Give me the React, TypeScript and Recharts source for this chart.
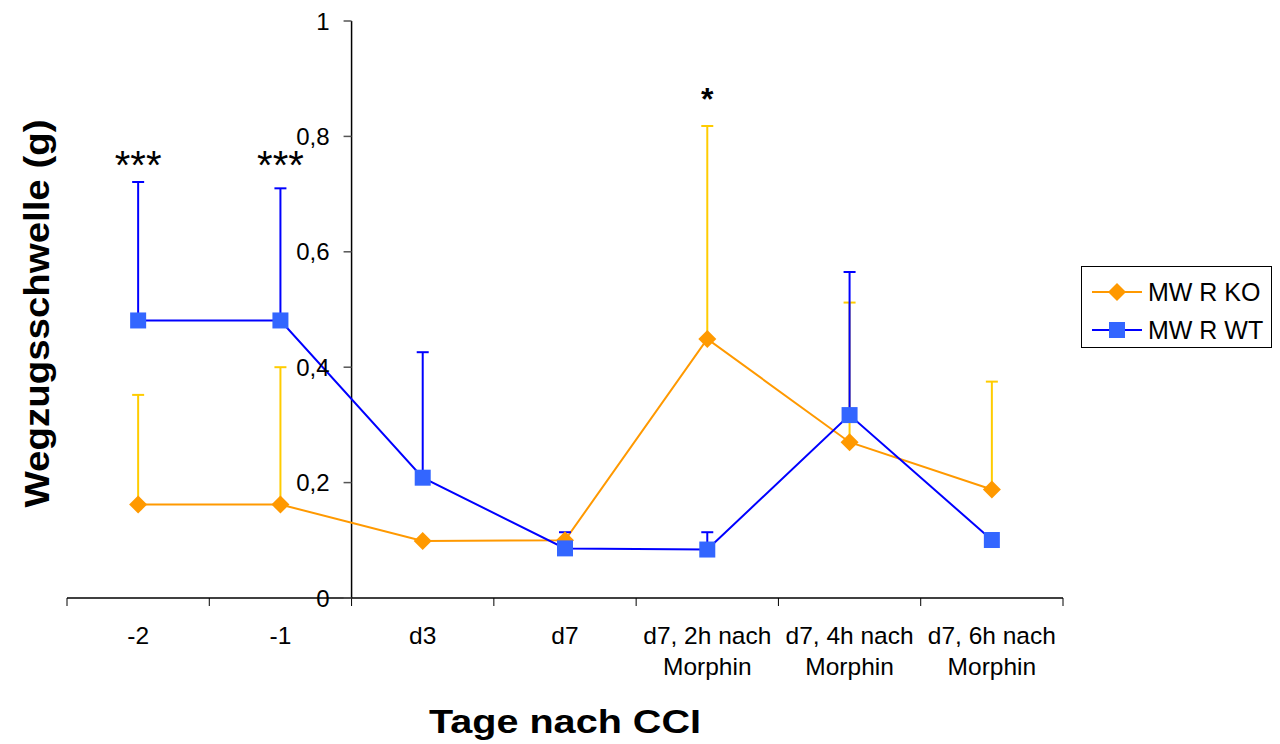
import React from "react"
import {
    LineChart,
    Line,
    XAxis,
    YAxis,
    ErrorBar,
    ReferenceLine,
    ReferenceDot,
    Label,
} from "recharts"

// x-axis categories (one per band)
const CATEGORIES = [
    "-2",
    "-1",
    "d3",
    "d7",
    "d7, 2h nach\nMorphin",
    "d7, 4h nach\nMorphin",
    "d7, 6h nach\nMorphin",
]

// MW R KO: mean + upper SD
const KO_MEAN = [0.162, 0.162, 0.099, 0.1, 0.449, 0.27, 0.188]
const KO_ERR = [0.19, 0.238, 0, 0, 0.369, 0.242, 0.187]

// MW R WT: mean + upper SD
const WT_MEAN = [0.481, 0.481, 0.2085, 0.086, 0.084, 0.317, 0.1005]
const WT_ERR = [0.24, 0.229, 0.2175, 0.028, 0.03, 0.248, 0]

const Y_TICKS = [0, 0.2, 0.4, 0.6, 0.8, 1]

// significance marks: band index, height, text
const SIG_BANDS = [0, 1, 4]
const SIG_Y = [0.75, 0.75, 0.866]
const SIG_TEXT = ["***", "***", "*"]

const FONT = "'Liberation Sans', Arial, Helvetica, sans-serif"
const W = 1280
const H = 744
const MARGIN = { top: 21, right: 217, bottom: 0, left: 66 }
const PLOT_LEFT = 67
const PLOT_W = W - PLOT_LEFT - MARGIN.right
// the value axis crosses between "-1" and "d3"
const Y_AXIS_X = PLOT_LEFT + (PLOT_W * 2) / CATEGORIES.length

const data = CATEGORIES.map((c, i) => ({
    x: i + 0.5,
    ko: KO_MEAN[i],
    koErr: [0, KO_ERR[i]],
    wt: WT_MEAN[i],
    wtErr: [0, WT_ERR[i]],
}))

const boundaryTicks = CATEGORIES.map((_, i) => i).concat(CATEGORIES.length)
const centerTicks = CATEGORIES.map((_, i) => i + 0.5)

const fmt = (v: number) => String(v).replace(".", ",")

function Diamond({ cx, cy, fill = "#FF9900" }: any) {
    if (cx == null || cy == null) return null
    const s = 9
    return (
        <polygon
            points={`${cx},${cy - s} ${cx + s},${cy} ${cx},${cy + s} ${cx - s},${cy}`}
            fill={fill}
        />
    )
}

function Square({ cx, cy, fill = "#3366FF" }: any) {
    if (cx == null || cy == null) return null
    return <rect x={cx - 8} y={cy - 8} width={16} height={16} fill={fill} />
}

function YTick({ y, payload }: any) {
    return (
        <g>
            <line x1={Y_AXIS_X - 8} x2={Y_AXIS_X} y1={y} y2={y} stroke="#555" strokeWidth={1.5} />
            <text
                x={Y_AXIS_X - 22}
                y={y}
                dy="0.36em"
                textAnchor="end"
                fontSize={24}
                fontFamily={FONT}
                fill="#000"
            >
                {fmt(payload.value)}
            </text>
        </g>
    )
}

function CatTick({ x, y, payload }: any) {
    const label = CATEGORIES[Math.floor(payload.value)]
    if (!label) return null
    const lines = label.split("\n")
    return (
        <text x={x} y={y} textAnchor="middle" fontSize={24.5} fontFamily={FONT} fill="#000">
            {lines.map((l, i) => (
                <tspan key={i} x={x} dy={i === 0 ? 38 : 31}>
                    {l}
                </tspan>
            ))}
        </text>
    )
}

const LEGEND_ITEMS = [
    { name: "MW R KO", color: "#FF9900", marker: "diamond" },
    { name: "MW R WT", color: "#0000FF", marker: "square" },
]

function LegendBox() {
    return (
        <div
            style={{
                position: "absolute",
                left: 1081,
                top: 266,
                border: "1px solid #000",
                width: 189,
                height: 80,
                fontFamily: FONT,
                fontSize: 25,
                background: "#fff",
            }}
        >
            {LEGEND_ITEMS.map((it) => (
                <div
                    key={it.name}
                    style={{ display: "flex", alignItems: "center", height: 26, marginTop: 12 }}
                >
                    <svg width={60} height={26} style={{ marginLeft: 10 }}>
                        <line x1={0} x2={50} y1={13} y2={13} stroke={it.color} strokeWidth={2} />
                        {it.marker === "diamond" ? <Diamond cx={25} cy={13} /> : <Square cx={25} cy={13} />}
                    </svg>
                    <span style={{ marginLeft: -4, color: "#000", whiteSpace: "nowrap" }}>{it.name}</span>
                </div>
            ))}
        </div>
    )
}

export default function App() {
    return (
        <div style={{ position: "absolute", left: 0, top: 0, width: W, height: H, background: "#fff" }}>
            <LineChart width={W} height={H} data={data} margin={MARGIN}>
                <XAxis
                    xAxisId="a"
                    dataKey="x"
                    type="number"
                    domain={[0, CATEGORIES.length]}
                    ticks={boundaryTicks}
                    tickFormatter={() => ""}
                    tickSize={8}
                    height={8}
                    stroke="#000"
                    tickLine={{ stroke: "#000" }}
                    axisLine={{ stroke: "#000", strokeWidth: 1.5 }}
                    interval={0}
                />
                <XAxis
                    xAxisId="b"
                    dataKey="x"
                    type="number"
                    domain={[0, CATEGORIES.length]}
                    ticks={centerTicks}
                    tick={<CatTick />}
                    tickLine={false}
                    axisLine={false}
                    tickSize={0}
                    tickMargin={0}
                    height={138}
                    interval={0}
                >
                    <Label
                        content={({ viewBox }: any) => (
                            <text
                                x={viewBox.x + viewBox.width / 2}
                                y={viewBox.y + 127}
                                textAnchor="middle"
                                fontSize={33}
                                fontWeight="bold"
                                fontFamily={FONT}
                                textLength={272}
                                lengthAdjust="spacingAndGlyphs"
                                fill="#000"
                            >
                                Tage nach CCI
                            </text>
                        )}
                    />
                </XAxis>
                <YAxis
                    type="number"
                    domain={[0, 1]}
                    ticks={Y_TICKS}
                    width={1}
                    axisLine={false}
                    tickLine={false}
                    tickSize={0}
                    tickMargin={0}
                    tick={<YTick />}
                    interval={0}
                >
                    <Label
                        content={({ viewBox }: any) => {
                            const cx = 36
                            const cy = viewBox.y + viewBox.height / 2 + 4
                            return (
                                <text
                                    x={cx}
                                    y={cy}
                                    dy="0.36em"
                                    transform={`rotate(-90, ${cx}, ${cy})`}
                                    textAnchor="middle"
                                    fontSize={35}
                                    fontWeight="bold"
                                    fontFamily={FONT}
                                    textLength={388}
                                    lengthAdjust="spacingAndGlyphs"
                                    fill="#000"
                                >
                                    Wegzugsschwelle (g)
                                </text>
                            )
                        }}
                    />
                </YAxis>
                <ReferenceLine xAxisId="a" x={2} stroke="#000" strokeWidth={1.5} />
                <Line
                    xAxisId="a"
                    dataKey="ko"
                    name="MW R KO"
                    stroke="#FF9900"
                    strokeWidth={2}
                    dot={(p: any) => <Diamond key={`ko-${p.index}`} cx={p.cx} cy={p.cy} />}
                    activeDot={false}
                    isAnimationActive={false}
                >
                    <ErrorBar dataKey="koErr" direction="y" width={6} stroke="#FFCC00" strokeWidth={2} />
                </Line>
                <Line
                    xAxisId="a"
                    dataKey="wt"
                    name="MW R WT"
                    stroke="#0000FF"
                    strokeWidth={2}
                    dot={(p: any) => <Square key={`wt-${p.index}`} cx={p.cx} cy={p.cy} />}
                    activeDot={false}
                    isAnimationActive={false}
                >
                    <ErrorBar dataKey="wtErr" direction="y" width={6} stroke="#0000FF" strokeWidth={2} />
                </Line>
                {SIG_BANDS.map((b, i) => (
                    <ReferenceDot
                        key={i}
                        xAxisId="a"
                        x={b + 0.5}
                        y={SIG_Y[i]}
                        r={0}
                        fill="none"
                        stroke="none"
                        label={{
                            value: SIG_TEXT[i],
                            position: "center",
                            fontSize: SIG_TEXT[i].length === 1 ? 32 : 40,
                            fontWeight: SIG_TEXT[i].length === 1 ? "bold" : "normal",
                            fontFamily: FONT,
                            fill: "#000",
                        }}
                    />
                ))}
            </LineChart>
            <LegendBox />
        </div>
    )
}
